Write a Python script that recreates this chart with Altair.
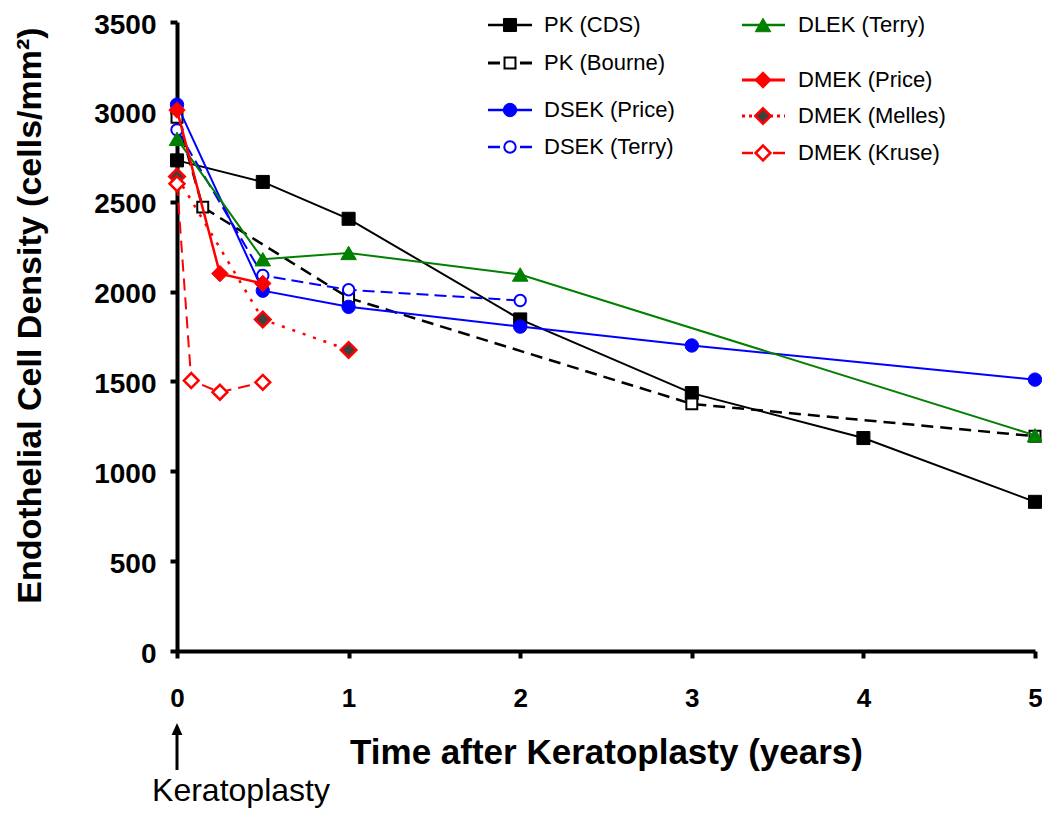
import altair as alt
import pandas as pd

# ---------------- data ----------------
series_names = ["PK (CDS)", "PK (Bourne)", "DSEK (Price)", "DSEK (Terry)",
                "DLEK (Terry)", "DMEK (Price)", "DMEK (Melles)", "DMEK (Kruse)"]

pk_cds_t = [0, 0.5, 1, 2, 3, 4, 5]
pk_cds_v = [2730, 2610, 2405, 1845, 1435, 1185, 830]

pk_bourne_t = [0, 0.15, 1, 3, 5]
pk_bourne_v = [2970, 2470, 1965, 1375, 1195]

dsek_price_t = [0, 0.5, 1, 2, 3, 5]
dsek_price_v = [3040, 2005, 1915, 1805, 1700, 1510]

dsek_terry_t = [0, 0.5, 1, 2]
dsek_terry_v = [2900, 2090, 2010, 1950]

dlek_terry_t = [0, 0.5, 1, 2, 5]
dlek_terry_v = [2850, 2180, 2215, 2095, 1200]

dmek_price_t = [0, 0.25, 0.5]
dmek_price_v = [3010, 2100, 2045]

dmek_melles_t = [0, 0.5, 1]
dmek_melles_v = [2640, 1845, 1675]

dmek_kruse_t = [0, 0.083, 0.25, 0.5]
dmek_kruse_v = [2600, 1505, 1440, 1495]

x_ticks = [0, 1, 2, 3, 4, 5]
y_ticks = [0, 500, 1000, 1500, 2000, 2500, 3000, 3500]

x_title = "Time after Keratoplasty (years)"
y_title = "Endothelial Cell Density (cells/mm²)"
annotation = "Keratoplasty"

series_data = {
    "PK (CDS)": (pk_cds_t, pk_cds_v),
    "PK (Bourne)": (pk_bourne_t, pk_bourne_v),
    "DSEK (Price)": (dsek_price_t, dsek_price_v),
    "DSEK (Terry)": (dsek_terry_t, dsek_terry_v),
    "DLEK (Terry)": (dlek_terry_t, dlek_terry_v),
    "DMEK (Price)": (dmek_price_t, dmek_price_v),
    "DMEK (Melles)": (dmek_melles_t, dmek_melles_v),
    "DMEK (Kruse)": (dmek_kruse_t, dmek_kruse_v),
}

# ---------------- styles ----------------
FONT = "Liberation Sans"
styles = {
    "PK (CDS)":      dict(color="#000000", width=2,   dash=None,    shape="square",      fill="#000000", size=170, sw=1,   leg="solid"),
    "PK (Bourne)":   dict(color="#000000", width=2.5, dash=[12, 7], shape="square",      fill="#ffffff", size=120, sw=2,   leg="dashed"),
    "DSEK (Price)":  dict(color="#0000ff", width=2,   dash=None,    shape="circle",      fill="#0000ff", size=180, sw=1,   leg="solid"),
    "DSEK (Terry)":  dict(color="#0000ff", width=2,   dash=[12, 6], shape="circle",      fill="#ffffff", size=130, sw=2,   leg="dashed"),
    "DLEK (Terry)":  dict(color="#008000", width=2,   dash=None,    shape="triangle-up", fill="#008000", size=240, sw=1,   leg="solid"),
    "DMEK (Price)":  dict(color="#ff0000", width=2.5, dash=None,    shape="diamond",     fill="#ff0000", size=270, sw=1,   leg="solid"),
    "DMEK (Melles)": dict(color="#ff0000", width=2.5, dash=[3, 8],  shape="diamond",     fill="#404040", size=240, sw=2.5, leg="dotted"),
    "DMEK (Kruse)":  dict(color="#ff0000", width=2,   dash=[12, 7], shape="diamond",     fill="#ffffff", size=220, sw=2.5, leg="dashed"),
}

# layout: plot origin sits at page (177, 22)
PAD_L, PAD_T, PAD_R, PAD_B = 169, 14, 7, 160
W, H = 858, 629

# legend layout (pixels relative to plot origin)
leg_cols = {0: (311, 333, 355, 367), 1: (565, 586, 608, 621)}
leg_pos = {
    "PK (CDS)": (0, 3), "PK (Bourne)": (0, 41), "DSEK (Price)": (0, 88), "DSEK (Terry)": (0, 125),
    "DLEK (Terry)": (1, 3), "DMEK (Price)": (1, 58), "DMEK (Melles)": (1, 94), "DMEK (Kruse)": (1, 131),
}

x_scale = alt.Scale(domain=[0, 5], nice=False, zero=False)
y_scale = alt.Scale(domain=[0, 3500], nice=False)

common_axis = dict(
    labelFont=FONT, labelFontWeight="bold", labelColor="black",
    titleFont=FONT, titleFontWeight="bold", titleColor="black",
    tickSize=7, tickWidth=4, tickColor="black",
    domainWidth=4, domainColor="black", grid=False, labelFlush=False,
)
x_axis = alt.Axis(values=x_ticks, format="d", title=x_title, labelFontSize=26, labelPadding=27,
                  titleFontSize=35, titleX=W / 2, titleY=112, titleBaseline="alphabetic",
                  titleAlign="center", **common_axis)
y_axis = alt.Axis(values=y_ticks, format="d", title=y_title, labelFontSize=28, labelPadding=14,
                  labelOffset=3, titleFontSize=34, titleX=-147, titleY=293, titleBaseline="middle",
                  titleAlign="center", titleAngle=270, **common_axis)

layers = []
one = pd.DataFrame({"k": [0]})

for name in series_names:
    t, v = series_data[name]
    st = styles[name]
    df = pd.DataFrame({"t": t, "v": v})
    line_kwargs = dict(color=st["color"], strokeWidth=st["width"])
    if st["dash"]:
        line_kwargs["strokeDash"] = st["dash"]
    enc = dict(x=alt.X("t:Q", scale=x_scale, axis=x_axis),
               y=alt.Y("v:Q", scale=y_scale, axis=y_axis))
    layers.append(alt.Chart(df).mark_line(**line_kwargs).encode(**enc))
    layers.append(alt.Chart(df).mark_point(
        shape=st["shape"], filled=True, fill=st["fill"], stroke=st["color"],
        strokeWidth=st["sw"], size=st["size"], opacity=1, fillOpacity=1
    ).encode(**enc))

# ---------- legend ----------
for name in series_names:
    st = styles[name]
    col, ly = leg_pos[name]
    x0, xm, x1, xt = leg_cols[col]
    if st["leg"] == "dashed":
        for a, b in [(x0, xm - 10), (xm + 10, x1)]:
            layers.append(alt.Chart(one).mark_rule(color=st["color"], strokeWidth=st["width"] + 0.5).encode(
                x=alt.value(a), x2=alt.value(b), y=alt.value(ly)))
    else:
        kw = dict(color=st["color"], strokeWidth=st["width"] + 0.5)
        if st["leg"] == "dotted":
            kw["strokeDash"] = [3, 4]
        layers.append(alt.Chart(one).mark_rule(**kw).encode(
            x=alt.value(x0), x2=alt.value(x1), y=alt.value(ly)))
    layers.append(alt.Chart(one).mark_point(
        shape=st["shape"], filled=True, fill=st["fill"], stroke=st["color"],
        strokeWidth=st["sw"], size=st["size"], opacity=1, fillOpacity=1
    ).encode(x=alt.value(xm), y=alt.value(ly)))
    layers.append(alt.Chart(one).mark_text(
        text=name, align="left", baseline="middle", font=FONT, fontSize=22, color="black"
    ).encode(x=alt.value(xt), y=alt.value(ly)))

# ---------- keratoplasty arrow annotation ----------
layers.append(alt.Chart(one).mark_rule(color="black", strokeWidth=3).encode(
    x=alt.value(0), y=alt.value(711), y2=alt.value(748)))
layers.append(alt.Chart(one).mark_point(
    shape="M-0.9,1L0,-1L0.9,1Z", filled=True, fill="black", stroke="black", strokeWidth=0,
    size=144, opacity=1
).encode(x=alt.value(0), y=alt.value(707)))
layers.append(alt.Chart(one).mark_text(
    text=annotation, align="center", baseline="alphabetic", font=FONT, fontSize=32, color="black"
).encode(x=alt.value(64), y=alt.value(779)))

chart = alt.layer(*layers).properties(
    width=W, height=H,
    padding={"left": PAD_L, "top": PAD_T, "right": PAD_R, "bottom": PAD_B},
    autosize=alt.AutoSizeParams(type="none"),
).configure_view(stroke=None)

chart.save("out.html", embed_options={"renderer": "svg", "actions": False})
